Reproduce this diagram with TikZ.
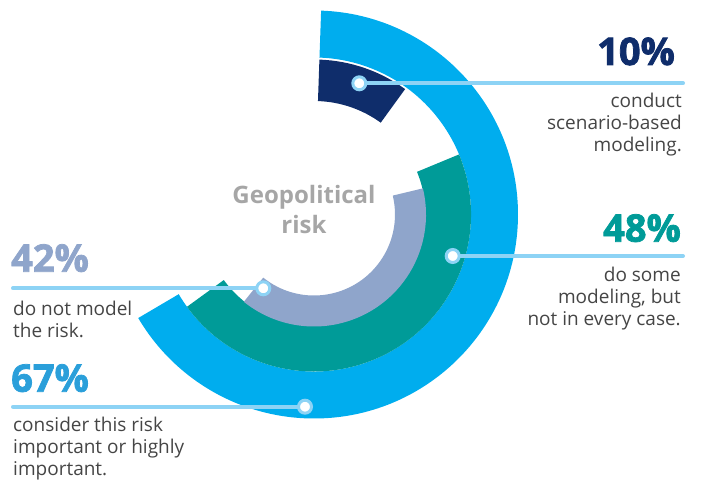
\documentclass[tikz,border=0pt]{standalone}
\usepackage{fontspec}
\setmainfont{Open Sans}
\newfontfamily\heavyfont{Open Sans}[BoldFeatures={FakeBold=2}]
\definecolor{ringblue}{HTML}{00ADEE}
\definecolor{navy}{HTML}{0F2D6B}
\definecolor{tealring}{HTML}{009B98}
\definecolor{lav}{HTML}{8FA5CB}
\definecolor{leader}{HTML}{8DD3F5}
\definecolor{pctblue}{HTML}{2A9FDA}
\definecolor{txt}{HTML}{454545}
\definecolor{geo}{HTML}{A6A6A6}
\begin{document}
\begin{tikzpicture}[x=1pt,y=1pt,
  pct/.style={font=\heavyfont\fontsize{38}{38}\selectfont\bfseries, inner sep=0pt},
  desc/.style={font=\fontsize{19}{22}\selectfont, text=txt, inner sep=0pt},
  leaderline/.style={draw=leader, line width=4pt, line cap=round},
  dotnode/.style={circle, fill=white, draw=leader, line width=3pt, minimum size=13pt, inner sep=0pt}]
\useasboundingbox (0,0) rectangle (701,483);
% rings
\begin{scope}[shift={(314,268.5)}]
\fill[ringblue] (88:204pt) arc[start angle=88, end angle=-149.5, radius=204pt]
  -- (-149.5:157pt) arc[start angle=-149.5, end angle=88, radius=157pt] -- cycle;
\fill[navy] (88:155pt) arc[start angle=88, end angle=54, radius=155pt]
  -- (54:113.5pt) arc[start angle=54, end angle=88, radius=113.5pt] -- cycle;
\fill[tealring] (22.5:157pt) arc[start angle=22.5, end angle=-144, radius=157pt]
  -- (-144:111.5pt) arc[start angle=-144, end angle=22.5, radius=111.5pt] -- cycle;
\fill[lav] (13.5:112pt) arc[start angle=13.5, end angle=-128.8, radius=112pt]
  -- (-128.8:81pt) arc[start angle=-128.8, end angle=13.5, radius=81pt] -- cycle;
\end{scope}
% centre label
\node[font=\fontsize{24}{30}\selectfont\bfseries, text=geo, align=center, inner sep=0pt, anchor=north]
  (geo) at (304,299.7) {\rule{0pt}{20pt}Geopolitical\\risk};
% leader positions
\coordinate (p10) at (359.3,399.7);
\coordinate (e10) at (683,399.7);
\coordinate (p48) at (452.7,227);
\coordinate (e48) at (683,227);
\coordinate (p42) at (263.3,194.7);
\coordinate (e42) at (13,194.7);
\coordinate (p67) at (305,76.3);
\coordinate (e67) at (13,76.3);
\draw[leaderline] (p10) -- (e10);
\draw[leaderline] (p48) -- (e48);
\draw[leaderline] (p42) -- (e42);
\draw[leaderline] (p67) -- (e67);
\node[dotnode] (d10) at (p10) {};
\node[dotnode] (d48) at (p48) {};
\node[dotnode] (d42) at (p42) {};
\node[dotnode] (d67) at (p67) {};
% texts
\node[pct, text=navy, anchor=base east] (t10) at (675,418) {10\%};
\node[desc, align=right, anchor=north east] (s10) at (682,391) {\rule{0pt}{15pt}conduct\\scenario-based\\modeling.};
\node[pct, text=tealring, anchor=base east] (t48) at (681,241.3) {48\%};
\node[desc, align=right, anchor=north east] (s48) at (681,216.3) {\rule{0pt}{15pt}do some\\modeling, but\\not in every case.};
\node[pct, text=lav, anchor=base west] (t42) at (11,211.3) {42\%};
\node[desc, align=left, anchor=north west] (s42) at (13,183) {\rule{0pt}{15pt}do not model\\the risk.};
\node[pct, text=pctblue, anchor=base west] (t67) at (11,91.3) {67\%};
\node[desc, align=left, anchor=north west] (s67) at (13,66.3) {\rule{0pt}{15pt}consider this risk\\important or highly\\important.};
\end{tikzpicture}
\end{document}
